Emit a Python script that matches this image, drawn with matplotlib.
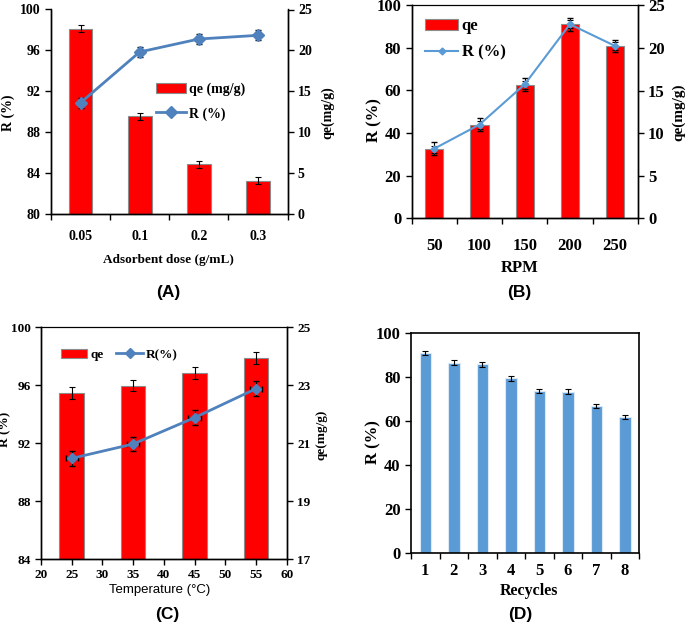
import matplotlib
matplotlib.use("Agg")
import matplotlib.pyplot as plt
from matplotlib.ticker import FixedLocator
from matplotlib.lines import Line2D
from matplotlib.patches import Patch
import numpy as np

# ---------------- data ----------------
# (A) adsorbent dose
dose_labels = ["0.05", "0.1", "0.2", "0.3"]
dose_qe = [22.65, 11.92, 6.05, 4.04]
dose_qe_err = [0.45, 0.45, 0.45, 0.45]
dose_R = [90.87, 95.84, 97.11, 97.47]
dose_R_err = [0.5, 0.5, 0.5, 0.5]

# (B) RPM
rpm_labels = ["50", "100", "150", "200", "250"]
rpm_qe = [8.1, 10.95, 15.65, 22.78, 20.25]
rpm_qe_err = [0.4, 0.5, 0.5, 0.5, 0.5]
rpm_R = [32.7, 44.0, 62.9, 91.1, 80.9]
rpm_R_err = [3.0, 3.0, 3.0, 3.0, 3.0]

# (C) temperature
temp = [25, 35, 45, 55]
temp_qe = [22.73, 22.99, 23.43, 23.93]
temp_qe_err = [0.2, 0.2, 0.2, 0.2]
temp_R = [90.95, 91.94, 93.76, 95.76]
temp_R_err = [0.5, 0.5, 0.5, 0.5]
temp_x_err = [1.0, 1.0, 1.0, 1.0]

# (D) recycles
cycle_labels = ["1", "2", "3", "4", "5", "6", "7", "8"]
cycle_R = [90.9, 86.4, 85.6, 79.3, 73.6, 73.3, 66.9, 61.9]
cycle_R_err = [1.0, 1.2, 1.0, 1.0, 1.0, 1.2, 1.0, 1.0]

# ---------------- style ----------------
SERIF = "Liberation Serif"
SANS = "Liberation Sans"
RED = "#FF0000"
BAR_EDGE = "#8c8c8c"
BLUE = "#4F81BD"
LBLUE = "#5B9BD5"

W, H = 685, 624
fig = plt.figure(figsize=(W / 100, H / 100), dpi=100)


def rect(l, r, t, b):
    return [l / W, 1 - b / H, (r - l) / W, (b - t) / H]


def style_ticks(ax, size):
    for lab in ax.get_yticklabels() + ax.get_xticklabels():
        lab.set_fontfamily(SERIF)
        lab.set_fontweight("bold")
        lab.set_fontsize(size)


errkw = dict(ecolor="black", elinewidth=0.8, capsize=2.5, capthick=0.8)

# ================= (A) =================
axA = fig.add_axes(rect(51, 287.5, 9.5, 213.7))
axA2 = axA.twinx()
xA = np.arange(len(dose_labels))
axA2.bar(xA, dose_qe, width=0.4, color=RED, edgecolor=BAR_EDGE, linewidth=0.8,
         yerr=dose_qe_err, error_kw=errkw)
axA.errorbar(xA, dose_R, yerr=dose_R_err, color=BLUE, lw=2, marker="D", ms=6,
             ecolor="black", elinewidth=0.8, capsize=2.5)
axA.set_zorder(axA2.get_zorder() + 1)
axA.patch.set_visible(False)
axA.set_ylim(80, 100)
axA.set_yticks([80, 84, 88, 92, 96, 100])
axA2.set_ylim(0, 25)
axA2.set_yticks([0, 5, 10, 15, 20, 25])
axA.set_xlim(-0.5, len(xA) - 0.5)
axA.set_xticks(xA)
axA.set_xticklabels(dose_labels)
axA.xaxis.set_minor_locator(FixedLocator(np.arange(-0.5, len(xA), 1.0)))
axA.tick_params(axis="x", which="major", length=0, pad=12)
axA.tick_params(axis="x", which="minor", length=4, width=1)
axA.tick_params(axis="y", length=4, width=1)
axA2.tick_params(axis="y", length=4, width=1)
for a in (axA, axA2):
    a.spines["top"].set_visible(False)
    for s in ("left", "right", "bottom"):
        a.spines[s].set_linewidth(1.0)
style_ticks(axA, 10)
style_ticks(axA2, 10)
fig.text(8 / W, 1 - 113 / H, "R (%)", rotation=90, ha="center", va="center",
         family=SERIF, weight="bold", fontsize=10)
fig.text(328 / W, 1 - 113 / H, "qe(mg/g)", rotation=90, ha="center", va="center",
         family=SERIF, weight="bold", fontsize=10)
fig.text(168 / W, 1 - 260 / H, "Adsorbent dose (g/mL)", ha="center", va="center",
         family=SERIF, weight="bold", fontsize=9.5)
fig.text(168 / W, 1 - 293 / H, "(A)", ha="center", va="center",
         family=SANS, weight="bold", fontsize=12.5)
hA = [Patch(facecolor=RED, edgecolor=BAR_EDGE, linewidth=0.8),
      Line2D([], [], color=BLUE, lw=2, marker="D", ms=6)]
axA.legend(hA, ["qe (mg/g)", "R (%)"], loc="upper left", bbox_to_anchor=(0.42, 0.67),
           frameon=False, prop=dict(family=SERIF, weight="bold", size=10),
           handlelength=2.2, handletextpad=0.2, labelspacing=0.8, borderaxespad=0)

# ================= (B) =================
axB = fig.add_axes(rect(411.7, 637.7, 5.3, 218.3))
axB2 = axB.twinx()
xB = np.arange(len(rpm_labels))
axB2.bar(xB, rpm_qe, width=0.4, color=RED, edgecolor=BAR_EDGE, linewidth=0.8,
         yerr=rpm_qe_err, error_kw=errkw)
axB.errorbar(xB, rpm_R, yerr=rpm_R_err, color=LBLUE, lw=1.5, marker="D", ms=3.5,
             ecolor="black", elinewidth=0.8, capsize=2.5)
axB.set_zorder(axB2.get_zorder() + 1)
axB.patch.set_visible(False)
axB.set_ylim(0, 100)
axB.set_yticks([0, 20, 40, 60, 80, 100])
axB2.set_ylim(0, 25)
axB2.set_yticks([0, 5, 10, 15, 20, 25])
axB.set_xlim(-0.5, len(xB) - 0.5)
axB.set_xticks(xB)
axB.set_xticklabels(rpm_labels)
axB.xaxis.set_minor_locator(FixedLocator(np.arange(-0.5, len(xB), 1.0)))
axB.tick_params(axis="x", which="major", length=0, pad=14)
axB.tick_params(axis="x", which="minor", length=4, width=1)
axB.tick_params(axis="y", length=4, width=1)
axB2.tick_params(axis="y", length=4, width=1)
for a in (axB, axB2):
    a.spines["top"].set_linewidth(0.8)
    for s in ("left", "right", "bottom"):
        a.spines[s].set_linewidth(1.0)
style_ticks(axB, 12)
style_ticks(axB2, 12)
fig.text(374 / W, 1 - 120 / H, "R (%)", rotation=90, ha="center", va="center",
         family=SERIF, weight="bold", fontsize=12)
fig.text(679 / W, 1 - 112 / H, "qe(mg/g)", rotation=90, ha="center", va="center",
         family=SERIF, weight="bold", fontsize=11)
fig.text(520 / W, 1 - 268 / H, "RPM", ha="center", va="center",
         family=SERIF, weight="bold", fontsize=12)
fig.text(519 / W, 1 - 293 / H, "(B)", ha="center", va="center",
         family=SANS, weight="bold", fontsize=12.5)
hB = [Patch(facecolor=RED, edgecolor=BAR_EDGE, linewidth=0.8),
      Line2D([], [], color=LBLUE, lw=1.5, marker="D", ms=3.5)]
axB.legend(hB, ["qe", "R (%)"], loc="upper left", bbox_to_anchor=(0.03, 0.97),
           frameon=False, prop=dict(family=SERIF, weight="bold", size=12),
           handlelength=2.0, handletextpad=0.2, labelspacing=0.6, borderaxespad=0)

# ================= (C) =================
axC = fig.add_axes(rect(41, 286.7, 327.3, 559))
axC2 = axC.twinx()
axC2.bar(temp, temp_qe, width=4, color=RED, edgecolor=BAR_EDGE, linewidth=0.8,
         yerr=temp_qe_err, error_kw=errkw)
axC.errorbar(temp, temp_R, yerr=temp_R_err, xerr=temp_x_err, color=BLUE, lw=2,
             marker="D", ms=5.5, ecolor="black", elinewidth=0.8, capsize=2.0)
axC.set_zorder(axC2.get_zorder() + 1)
axC.patch.set_visible(False)
axC.set_xlim(20, 60)
axC.set_xticks(np.arange(20, 61, 5))
axC.set_ylim(84, 100)
axC.set_yticks([84, 88, 92, 96, 100])
axC2.set_ylim(17, 25)
axC2.set_yticks([17, 19, 21, 23, 25])
axC.tick_params(axis="both", length=4, width=1)
axC2.tick_params(axis="y", length=4, width=1)
for a in (axC, axC2):
    a.spines["top"].set_linewidth(0.8)
    for s in ("left", "right", "bottom"):
        a.spines[s].set_linewidth(1.0)
style_ticks(axC, 9.5)
style_ticks(axC2, 9.5)
fig.text(5 / W, 1 - 429 / H, "R (%)", rotation=90, ha="center", va="center",
         family=SERIF, weight="bold", fontsize=9.5)
fig.text(322 / W, 1 - 435 / H, "qe(mg/g)", rotation=90, ha="center", va="center",
         family=SERIF, weight="bold", fontsize=9.5)
fig.text(160 / W, 1 - 590 / H, "Temperature (°C)", ha="center", va="center",
         family=["Liberation Sans Narrow", SANS], fontsize=9.5)
fig.text(167 / W, 1 - 614 / H, "(C)", ha="center", va="center",
         family=SANS, weight="bold", fontsize=12.5)
hC = [Patch(facecolor=RED, edgecolor=BAR_EDGE, linewidth=0.8),
      Line2D([], [], color=BLUE, lw=2, marker="D", ms=5)]
axC.legend(hC, ["qe", "R(%)"], loc="upper left", bbox_to_anchor=(0.06, 0.93),
           frameon=False, ncol=2, prop=dict(family=SERIF, weight="bold", size=9.5),
           handlelength=2.0, handletextpad=0.2, columnspacing=1.0, borderaxespad=0)

# ================= (D) =================
axD = fig.add_axes(rect(411, 639.3, 332.7, 553.3))
xD = np.arange(len(cycle_labels))
axD.bar(xD, cycle_R, width=0.4, color=LBLUE, edgecolor="#dbe8f5", linewidth=0.8,
        yerr=cycle_R_err, error_kw=errkw)
axD.set_ylim(0, 100)
axD.set_yticks([0, 20, 40, 60, 80, 100])
axD.set_xlim(-0.5, len(xD) - 0.5)
axD.set_xticks(xD)
axD.set_xticklabels(cycle_labels)
axD.xaxis.set_minor_locator(FixedLocator(np.arange(-0.5, len(xD), 1.0)))
axD.tick_params(axis="x", which="major", length=0, pad=7)
axD.tick_params(axis="x", which="minor", length=4, width=1)
axD.tick_params(axis="y", length=4, width=1)
for s in ("top", "right", "left", "bottom"):
    axD.spines[s].set_linewidth(1.2)
style_ticks(axD, 12)
fig.text(373 / W, 1 - 442 / H, "R (%)", rotation=90, ha="center", va="center",
         family=SERIF, weight="bold", fontsize=12)
fig.text(529 / W, 1 - 591 / H, "Recycles", ha="center", va="center",
         family=SERIF, weight="bold", fontsize=11.5)
fig.text(520 / W, 1 - 614 / H, "(D)", ha="center", va="center",
         family=SANS, weight="bold", fontsize=12.5)

fig.savefig("out.png", dpi=100)
